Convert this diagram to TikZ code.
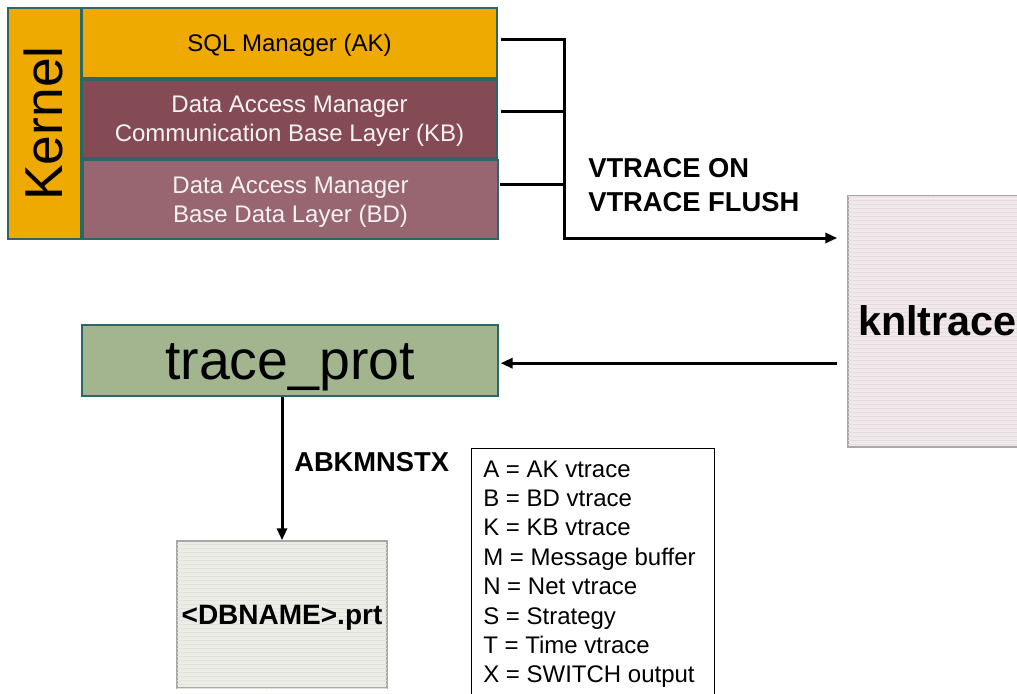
\documentclass[tikz,border=0pt]{standalone}
\usepackage{fontspec}
\setmainfont{Liberation Sans}
\usetikzlibrary{arrows.meta,patterns}
\definecolor{korange}{HTML}{EEAA00}
\definecolor{kbred}{HTML}{844B55}
\definecolor{bdred}{HTML}{986670}
\definecolor{tpgreen}{HTML}{A3B58F}
\definecolor{boxedge}{HTML}{2B6767}
\definecolor{knlfill}{HTML}{F0E8EB}
\definecolor{knlline}{HTML}{E6DBDF}
\definecolor{dbfill}{HTML}{EBEDE6}
\definecolor{dbline}{HTML}{E0E3D9}
\definecolor{fileedge}{HTML}{A8A8A8}
\definecolor{lighttext}{HTML}{F6F2F2}
\begin{document}
\begin{tikzpicture}[x=0.75pt,y=-0.75pt,
  layer/.style={draw=boxedge, line width=1.5pt, inner sep=0pt, align=center},
  filebox/.style={draw=fileedge, line width=1.1pt, inner sep=0pt},
  ppt/.style={font=\fontsize{#1}{21.75}\selectfont, text height=#1*0.905pt, text depth=#1*0.212pt},
  conn/.style={line width=2.25pt},
  arrowline/.style={conn, -{Triangle[length=9pt,width=7.5pt]}},
  lbl/.style={font=\fontsize{20.5}{24}\selectfont\bfseries, inner sep=0pt, anchor=base west},
  legline/.style={font=\fontsize{18}{21}\selectfont, inner sep=0pt, anchor=base west}]
\clip (0,0) rectangle (1017,693);
% kernel layers
\node[layer, fill=korange, rotate=90, minimum width=173.25pt, minimum height=54.75pt, ppt=40] (kernel) at (44.5,123.5) {Kernel};
\node[layer, fill=korange, minimum width=311.25pt, minimum height=52.5pt, ppt=18] (sql) at (289.5,43) {SQL Manager (AK)};
\node[layer, fill=kbred, text=lighttext, minimum width=311.25pt, minimum height=58.5pt, ppt=18, text height=38pt] (kb) at (289.5,119) {Data Access Manager\\Communication Base Layer (KB)};
\node[layer, fill=bdred, text=lighttext, minimum width=311.25pt, minimum height=59.25pt, ppt=18, text height=38pt] (bd) at (290.5,199.5) {Data Access Manager\\Base Data Layer (BD)};
% knltrace
\node[filebox, fill=knlfill, postaction={pattern=horizontal lines, pattern color=knlline}, minimum width=134.25pt, minimum height=188.25pt, ppt=31, font=\fontsize{31}{36}\selectfont\bfseries] (knl) at (937.5,321.5) {knltrace};
% trace_prot
\node[layer, fill=tpgreen, minimum width=312pt, minimum height=53.25pt, ppt=41.6] (tp) at (290,360.5) {trace\_prot};
% file
\node[filebox, fill=dbfill, postaction={pattern=horizontal lines, pattern color=dbline}, minimum width=157.5pt, minimum height=110.25pt, ppt=21, font=\fontsize{21}{25}\selectfont\bfseries] (db) at (282,614.5) {<DBNAME>.prt};
% legend
\node[draw=black, line width=0.9pt, fill=white, minimum width=182.25pt, minimum height=195pt, anchor=north west, inner sep=0pt] (legend) at (471,448) {};
\foreach \t [count=\i from 0] in {A = AK vtrace, B = BD vtrace, K = KB vtrace, M = Message buffer, N = Net vtrace, S = Strategy, T = Time vtrace, X = SWITCH output}
  \node[legline] (leg\i) at (483,{477+29.4*\i}) {\t};
% labels
\node[lbl] (von) at (588,177) {VTRACE ON};
\node[lbl] (vfl) at (588,211) {VTRACE FLUSH};
\node[lbl] (abk) at (294,471) {ABKMNSTX};
% connectors
\coordinate (bus) at (564,238);
\coordinate (sqlout) at ([yshift=3pt]sql.east);
\coordinate (kbout) at ([yshift=5.5pt]kb.east);
\coordinate (bdout) at ([yshift=10.9pt]bd.east);
\draw[conn] ([xshift=2pt]sqlout) -| (bus);
\draw[conn] ([xshift=2pt]kbout) -- (kbout -| bus);
\draw[conn] ([xshift=1pt]bdout) -- (bdout -| bus);
\draw[arrowline, shorten >=7.5pt] ([xshift=-1.1pt]bus) -- (bus -| knl.west);
\draw[arrowline, shorten <=7.5pt, shorten >=1.2pt] ([yshift=-2pt]knl.west |- tp.east) -- ([yshift=-2pt]tp.east);
\draw[arrowline] (tp.south -| db.north) -- (db.north);
\end{tikzpicture}
\end{document}
